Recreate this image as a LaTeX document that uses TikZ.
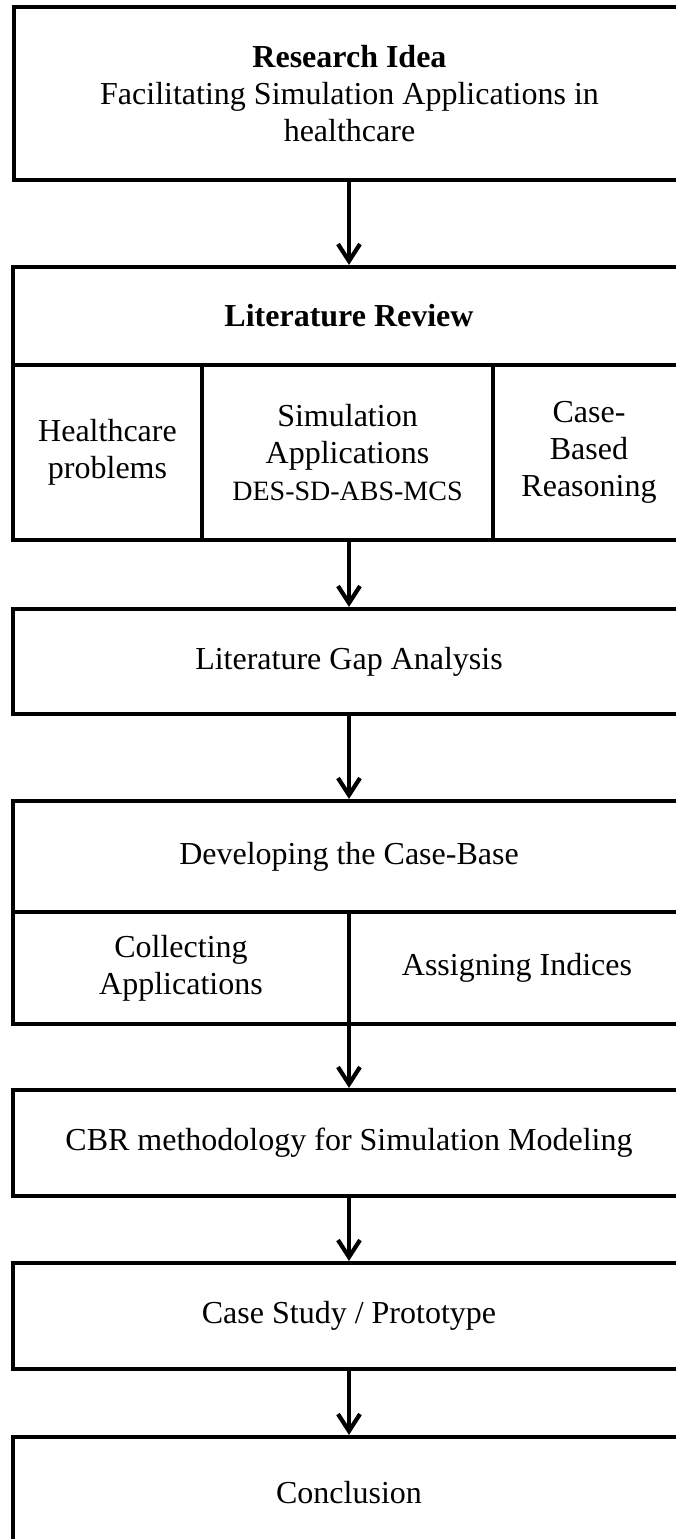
\documentclass[tikz,border=0pt]{standalone}
\usepackage{fontspec}
\setmainfont{Liberation Serif}
\usetikzlibrary{arrows.meta}
\begin{document}
\begin{tikzpicture}[x=1pt,y=-1pt,
  box/.style={draw=black, line width=4.2pt, inner sep=0pt, align=center,
    font=\fontsize{32}{37}\selectfont, anchor=center},
  flow/.style={line width=4.2pt, -{Straight Barb[length=17pt,width=22pt]}}]
  % page frame: the boxes run past the right and bottom edges
  \clip (0,0) rectangle (676,1539);
  \fill[white] (0,0) rectangle (676,1539);

  % research idea
  \node[box, minimum width=671pt, minimum height=173pt] (idea) at (349.5,93.5)
    {\textbf{Research Idea}\\Facilitating Simulation Applications in\\healthcare};

  % literature review with its three topics
  \node[box, minimum width=672pt, minimum height=98pt] (lit) at (349,316)
    {\textbf{Literature Review}};
  \node[box, minimum width=189pt, minimum height=175pt] (hc) at (107.5,452.5)
    {Healthcare\\problems};
  \node[box, minimum width=291pt, minimum height=175pt] (sim) at (347.5,452.5)
    {Simulation\\Applications\\{\fontsize{28}{37}\selectfont DES-SD-ABS-MCS}};
  \node[box, minimum width=192pt, minimum height=175pt] (cbr) at (589,452.5)
    {Case-\\Based\\Reasoning};

  % gap analysis
  \node[box, minimum width=672pt, minimum height=105pt] (gap) at (349,661.5)
    {Literature Gap Analysis};

  % case-base development and its two parts
  \node[box, minimum width=672pt, minimum height=111pt] (dev) at (349,856.5)
    {Developing the Case-Base};
  \node[box, minimum width=336pt, minimum height=112pt] (coll) at (181,968)
    {Collecting\\Applications};
  \node[box, minimum width=336pt, minimum height=112pt] (assign) at (517,968)
    {Assigning Indices};

  % remaining steps
  \node[box, minimum width=672pt, minimum height=106pt] (meth) at (349,1143)
    {CBR methodology for Simulation Modeling};
  \node[box, minimum width=672pt, minimum height=106pt] (study) at (349,1316)
    {Case Study / Prototype};
  \node[box, minimum width=672pt, minimum height=111pt] (concl) at (349,1492.5)
    {Conclusion};

  % connectors
  \draw[flow] (idea.south -| lit.north) -- (lit.north);
  \draw[flow] (sim.south -| gap.north) -- (gap.north);
  \draw[flow] (gap.south) -- (dev.north);
  \draw[flow] (coll.south -| meth.north) -- (meth.north);
  \draw[flow] (meth.south) -- (study.north);
  \draw[flow] (study.south) -- (concl.north);
\end{tikzpicture}
\end{document}
